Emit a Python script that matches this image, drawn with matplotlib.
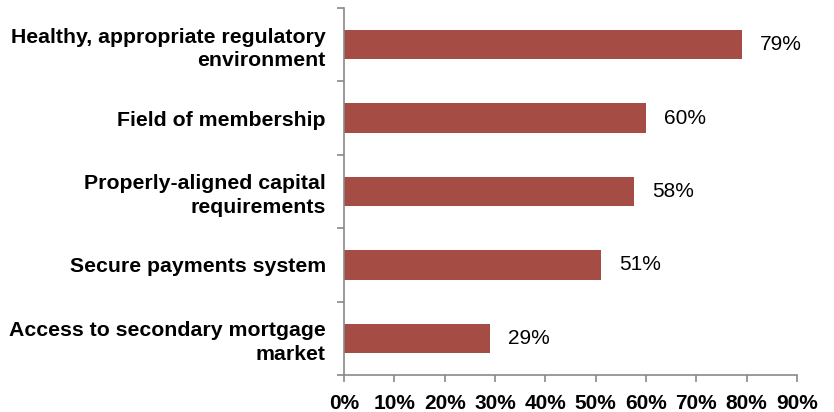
import numpy as np
import matplotlib.pyplot as plt
from matplotlib.ticker import FixedLocator

categories = ['Healthy, appropriate regulatory\nenvironment',
              'Field of membership',
              'Properly-aligned capital\nrequirements',
              'Secure payments system',
              'Access to secondary mortgage\nmarket']
values = [79, 60, 57.6, 51, 29]
x_ticks = [0, 10, 20, 30, 40, 50, 60, 70, 80, 90]

plt.rcParams['font.family'] = ['Liberation Sans', 'DejaVu Sans']

fig = plt.figure(figsize=(8.34, 4.12), dpi=100)
ax = fig.add_axes([0.4125, 0.0898, 0.5432, 0.8908])

ypos = np.arange(len(categories))[::-1]
ax.barh(ypos, values, height=0.4, color='#A54C45', edgecolor='none')

for y, v in zip(ypos, values):
    ax.text(v + 3.6, y, '%d%%' % round(v), va='center', ha='left', fontsize=15, color='black')

ax.set_xlim(0, 90)
ax.set_ylim(-0.5, len(categories) - 0.5)
ax.set_xticks(x_ticks)
ax.set_xticklabels(['%d%%' % t for t in x_ticks], fontsize=15, fontweight='bold')
ax.set_yticks(ypos)
ax.set_yticklabels(categories, fontsize=15.3, fontweight='bold', ha='right', linespacing=1.3)
ax.tick_params(axis='y', length=0, pad=13)
ax.yaxis.set_minor_locator(FixedLocator(np.arange(-0.5, len(categories), 1.0)))
ax.tick_params(axis='y', which='minor', length=5, color='#898989', width=1.2)
ax.tick_params(axis='x', length=5, color='#898989', width=1.2, pad=9)

for s in ['top', 'right']:
    ax.spines[s].set_visible(False)
for s in ['left', 'bottom']:
    ax.spines[s].set_color('#898989')
    ax.spines[s].set_linewidth(1.2)

plt.savefig('out.png', dpi=100)
plt.close()
